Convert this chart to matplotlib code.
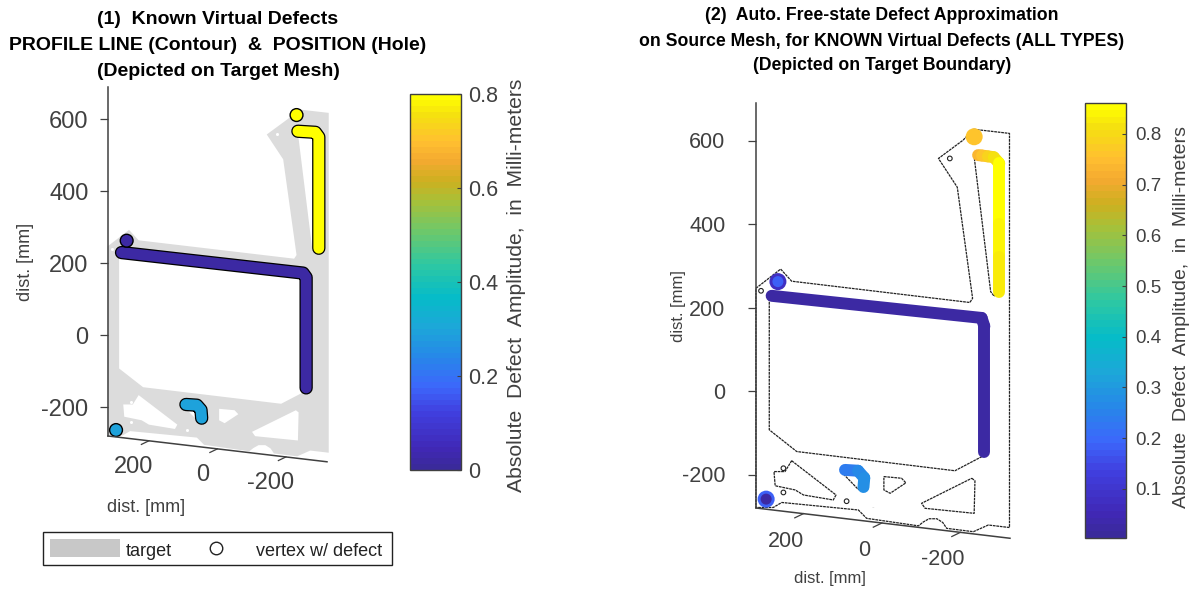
import numpy as np
import matplotlib
matplotlib.use('Agg')
import matplotlib.pyplot as plt
from matplotlib.colors import LinearSegmentedColormap, Normalize
from matplotlib.collections import LineCollection
from matplotlib.path import Path
from matplotlib.patches import PathPatch, Rectangle
from matplotlib.cm import ScalarMappable

plt.rcParams['font.family'] = ['Liberation Sans', 'DejaVu Sans']

# ---------- data (mm, as displayed) ----------
outer = [(-243,627),(-335,617),(-335,-327),(-281,-321),(-243,-337),(-175,-329),(-165,-315),(-150,-306),(-130,-306),(-115,-314),
         (-103,-323),(29,-305),(50,-285),(245,-267),(267,-279),(311,-279),(311,246),(248,292),(220,263),
         (-234,212),(-241,222),(-202,488),(-154,557),(-217,601)]
window = [(277,234),(-268,178),(-273,-153),(-196,-191),(207,-145),(277,-93)]
slot = [(-245,561),(-307,557),(-307,238),(-296,227),(-287,238)]
hole_a = [(220,-167),(107,-249),(114,-261),(190,-249),(211,-237),(262,-227),(265,-193),(237,-193)]
hole_b = [(88,-199),(50,-236),(36,-233),(25,-217),(37,-193),(63,-184),(81,-185)]
hole_c = [(-15,-205),(-60,-209),(-71,-220),(-31,-245),(-15,-237)]
hole_d = [(-239,-209),(-247,-215),(-245,-293),(-120,-281),(-111,-269)]
small_x = [241,241,80,12,-183,298]
small_y = [-185,-243,-264,-291,557,240]
small_ms = [4,4,4,7,4,4]

contour_purple_x = [270,-260,-269,-269]
contour_purple_y = [229,172,160,-147]
contour_yellow_x = [-245,-296,-306,-306]
contour_yellow_y = [566,563,550,241]
contour_blue_x = [82,50,38,36]
contour_blue_y = [-193,-195,-208,-231]

holes1_x = [255,-241,286]
holes1_y = [262,611,-264]
holes1_v = [0.02,0.80,0.30]
contour1_v = [0.02,0.80,0.30]

holes2_x = [255,-245,285]
holes2_y = [262,609,-259]
holes2_v_outer = [0.08,0.76,0.19]
holes2_v_inner = [0.19,0.76,0.02]

seg2_purple_x = [271,-264,-271,-271]
seg2_purple_y = [228,175,155,-145]
seg2_purple_v = [0.02,0.02,0.02]
seg2_yellow_x = [-255,-265,-280,-295,-309,-309,-309,-309,-309]
seg2_yellow_y = [565,564,562,560,545,480,400,320,238]
seg2_yellow_v = [0.74,0.76,0.79,0.82,0.86,0.85,0.84,0.83]
seg2_blue_x = [84,51,35,37]
seg2_blue_y = [-189,-191,-208,-230]
seg2_blue_v = [0.24,0.26,0.28]

xticks = [200,0,-200]
yticks = [-200,0,200,400,600]
cb1_ticks = [0,0.2,0.4,0.6,0.8]
cb2_ticks = [0.1,0.2,0.3,0.4,0.5,0.6,0.7,0.8]
cb1_labels = ['0','0.2','0.4','0.6','0.8']

cstops = [0,.05,.15,.22,.30,.38,.46,.55,.64,.72,.77,.83,.88,.95,1]
ccols = ['#3a2a9b','#4028b5','#4040e0','#3c68fb','#2688e8','#1ca8d8','#06bcc8','#30c8a0','#70c868',
         '#a8c038','#ccb020','#f5aa30','#ffc030','#f5e010','#ffff00']
parula = LinearSegmentedColormap.from_list('par', list(zip(cstops,ccols)), N=64)

W,H = 1197,592
fig = plt.figure(figsize=(W/100,H/100),dpi=100)
GREY = '#404040'

def axes_px(l,t,r,b):
    return fig.add_axes([l/W,1-b/H,(r-l)/W,(b-t)/H])

def mesh_path():
    verts,codes=[],[]
    def area(p):
        a=np.array(p); return np.sum(a[:,0]*np.roll(a[:,1],-1)-np.roll(a[:,0],-1)*a[:,1])
    s0=np.sign(area(outer))
    for i,p in enumerate([outer,window,slot,hole_a,hole_b,hole_c,hole_d]):
        q=list(p)
        want = s0 if i==0 else -s0
        if np.sign(area(q))!=want: q=q[::-1]
        verts+=q+[q[0]]
        codes+=[Path.MOVETO]+[Path.LINETO]*(len(q)-1)+[Path.CLOSEPOLY]
    return Path(verts,codes)

def style(ax,fs,pad,xleft,xright,ybot,ytop):
    ax.set_xlim(xleft,xright); ax.set_ylim(ybot,ytop)
    for s in ['top','right','bottom']: ax.spines[s].set_visible(False)
    ax.spines['left'].set_color(GREY); ax.spines['left'].set_linewidth(1.1)
    ax.set_xticks([]); ax.set_yticks(yticks)
    ax.set_yticklabels([str(v) for v in yticks])
    ax.tick_params(axis='y',labelsize=fs,colors=GREY,length=6,width=0.9,pad=pad)
    ax.patch.set_alpha(0)
    # slanted x axis
    k=0.112
    ax.plot([xleft,xright],[ybot,ybot-k*(xleft-xright)],color=GREY,lw=1.1,clip_on=False,zorder=6)
    for t in xticks:
        a=t-10
        ya=ybot-k*(xleft-a)
        ax.plot([a,a+22],[ya,ya-10],color=GREY,lw=0.9,clip_on=False,zorder=6)
        ax.text(t+34,ya-41,str(t),fontsize=fs,color=GREY,ha='center',va='top',clip_on=False)

# ---------- panel 1 ----------
ax1=axes_px(108,87,327,436)
style(ax1,17,8,(214-108)/.3425,(214-327)/.3425,(335-436)/.36,(335-87)/.36)
norm1=Normalize(0,0.8)
ax1.add_patch(PathPatch(mesh_path(),fc='#dcdcdc',ec='none',zorder=1,clip_on=False))
ax1.plot(small_x,small_y,ls='',marker='o',ms=2.2,mfc='white',mec='none',zorder=2)
for x,y,v in zip([contour_purple_x,contour_yellow_x,contour_blue_x],[contour_purple_y,contour_yellow_y,contour_blue_y],contour1_v):
    ax1.plot(x,y,color='black',lw=9.6,solid_capstyle='round',solid_joinstyle='round',zorder=3,clip_on=False)
    ax1.plot(x,y,color=parula(norm1(v)),lw=7.8,solid_capstyle='round',solid_joinstyle='round',zorder=4,clip_on=False)
ax1.scatter(holes1_x,holes1_y,c=holes1_v,cmap=parula,norm=norm1,s=85,edgecolors='black',linewidths=1,zorder=5,clip_on=False)

cax1=axes_px(410,94,461,470)
cb1=fig.colorbar(ScalarMappable(norm1,parula),cax=cax1,ticks=cb1_ticks)
cb1.ax.set_yticklabels(cb1_labels)
cb1.ax.tick_params(labelsize=15.5,colors=GREY,direction='in',length=3,width=0.8,pad=5)
cb1.outline.set_edgecolor(GREY); cb1.outline.set_linewidth(1)

# ---------- panel 2 ----------
ax2=axes_px(756,103,1010,508)
style(ax2,15.5,16,(878-756)/.3925,(878-1010)/.3925,(391-508)/.4175,(391-103)/.4175)
norm2=Normalize(0.003,0.861)
for poly in [outer,window,slot,hole_a,hole_b,hole_c,hole_d]:
    xs,ys=zip(*(poly+[poly[0]]))
    ax2.plot(xs,ys,color='#222222',lw=0.9,ls=(0,(2.2,0.6)),zorder=2,clip_on=False)
ax2.scatter(small_x,small_y,s=[m*m*0.7 for m in small_ms],fc='none',ec='#222222',lw=0.8,zorder=2)
for xs,ys,vs in [(seg2_purple_x,seg2_purple_y,seg2_purple_v),(seg2_yellow_x,seg2_yellow_y,seg2_yellow_v),(seg2_blue_x,seg2_blue_y,seg2_blue_v)]:
    pts=np.column_stack([xs,ys]).astype(float)
    segs=[pts[i:i+2] for i in range(len(pts)-1)]
    lc=LineCollection(segs,cmap=parula,norm=norm2,linewidths=8.6,capstyle='round',zorder=3,clip_on=False)
    lc.set_array(np.array(vs))
    ax2.add_collection(lc)
ax2.scatter(holes2_x,holes2_y,c=holes2_v_outer,cmap=parula,norm=norm2,s=150,edgecolors='none',zorder=4,clip_on=False)
ax2.scatter(holes2_x,holes2_y,c=holes2_v_inner,cmap=parula,norm=norm2,s=63,edgecolors='none',zorder=5,clip_on=False)

cax2=axes_px(1085,103,1126,538)
cb2=fig.colorbar(ScalarMappable(norm2,parula),cax=cax2,ticks=cb2_ticks)
cb2.ax.tick_params(labelsize=13.5,colors=GREY,direction='in',length=3,width=0.8,pad=7)
cb2.outline.set_edgecolor(GREY); cb2.outline.set_linewidth(1)

# ---------- overlay: text and legend ----------
ov=fig.add_axes([0,0,1,1]); ov.set_xlim(0,W); ov.set_ylim(H,0); ov.axis('off'); ov.patch.set_alpha(0)
for y,s in zip([19,46,72],['(1)  Known Virtual Defects','PROFILE LINE (Contour)  &  POSITION (Hole)','(Depicted on Target Mesh)']):
    ov.text(218,y,s,fontsize=14,fontweight='bold',ha='center',va='center',color='black')
for y,s in zip([16,41,65],['(2)  Auto. Free-state Defect Approximation','on Source Mesh, for KNOWN Virtual Defects (ALL TYPES)','(Depicted on Target Boundary)']):
    ov.text(882,y,s,fontsize=12.7,fontweight='bold',ha='center',va='center',color='black')
ov.text(146,508,'dist. [mm]',fontsize=13,color=GREY,ha='center',va='center')
ov.text(25,262,'dist. [mm]',fontsize=13,color=GREY,ha='center',va='center',rotation=90)
ov.text(830,579,'dist. [mm]',fontsize=12,color=GREY,ha='center',va='center')
ov.text(678,306,'dist. [mm]',fontsize=12,color=GREY,ha='center',va='center',rotation=90)
ov.text(516,285,'Absolute  Defect  Amplitude,  in  Milli-meters',fontsize=15.2,color=GREY,ha='center',va='center',rotation=90)
ov.text(1182,317,'Absolute  Defect  Amplitude,  in  Milli-meters',fontsize=14,color=GREY,ha='center',va='center',rotation=90)
ov.add_patch(Rectangle((43,532),349,33,fc='white',ec='#222222',lw=1))
ov.add_patch(Rectangle((50,539),70,18,fc='#c8c8c8',ec='none'))
ov.text(126,552,'target',fontsize=13,color='#222222',ha='left',va='center')
ov.plot([216],[548],marker='o',ms=9,mfc='white',mec='#222222',mew=1)
ov.text(256,552,'vertex w/ defect',fontsize=13,color='#222222',ha='left',va='center')

fig.savefig('out.png',dpi=100)
